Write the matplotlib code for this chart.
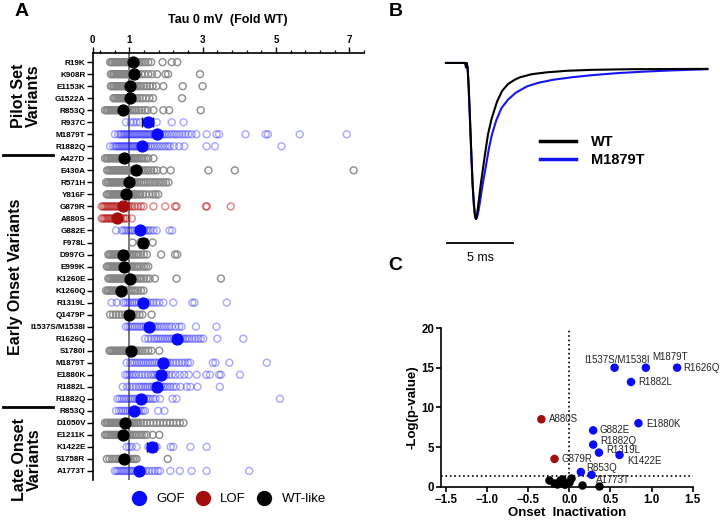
import matplotlib
matplotlib.use("Agg")
import matplotlib.pyplot as plt
from matplotlib.lines import Line2D
import numpy as np

plt.rcParams['font.family'] = ['Liberation Sans', 'DejaVu Sans']

# ---------------- Painel A: tau a 0 mV (fold WT) ----------------
pilot_labels = ['R19K', 'K908R', 'E1153K', 'G1522A', 'R853Q', 'R937C', 'M1879T', 'R1882Q']
early_labels = ['A427D', 'E430A', 'R571H', 'Y816F', 'G879R', 'A880S', 'G882E', 'F978L',
                'D997G', 'E999K', 'K1260E', 'K1260Q', 'R1319L', 'Q1479P', 'I1537S/M1538I',
                'R1626Q', 'S1780I', 'M1879T', 'E1880K', 'R1882L', 'R1882Q']
late_labels = ['R853Q', 'D1050V', 'E1211K', 'K1422E', 'S1758R', 'A1773T']

pilot_class = ['wt', 'wt', 'wt', 'wt', 'wt', 'gof', 'gof', 'gof']
early_class = ['wt', 'wt', 'wt', 'wt', 'lof', 'lof', 'gof', 'wt', 'wt', 'wt', 'wt', 'wt',
               'gof', 'wt', 'gof', 'gof', 'wt', 'gof', 'gof', 'gof', 'gof']
late_class = ['gof', 'wt', 'wt', 'gof', 'wt', 'gof']

pilot_mean = [1.09, 1.13, 1.02, 1.02, 0.82, 1.50, 1.75, 1.34]
early_mean = [0.86, 1.18, 1.00, 0.90, 0.84, 0.68, 1.29, 1.37, 0.84, 0.86, 1.02, 0.77,
              1.37, 1.00, 1.55, 2.31, 1.04, 1.93, 1.86, 1.75, 1.31]
late_mean = [1.13, 0.89, 0.84, 1.61, 0.86, 1.28]

pilot_sem = [0.04, 0.05, 0.04, 0.04, 0.04, 0.14, 0.06, 0.05]
early_sem = [0.04, 0.08, 0.04, 0.04, 0.06, 0.05, 0.06, 0.11, 0.04, 0.04, 0.04, 0.04,
             0.07, 0.05, 0.07, 0.08, 0.04, 0.08, 0.07, 0.07, 0.06]
late_sem = [0.06, 0.04, 0.05, 0.12, 0.06, 0.07]

# células individuais (uma lista por variante)
pilot_cells = [
    [0.48, 0.52, 0.56, 0.60, 0.64, 0.68, 0.72, 0.76, 0.80, 0.84, 0.88, 0.92, 0.96, 1.00, 1.04,
     1.08, 1.12, 1.16, 1.21, 1.26, 1.31, 1.37, 1.44, 1.52, 1.60, 1.91, 2.16, 2.31],
    [0.50, 0.54, 0.58, 0.62, 0.66, 0.70, 0.74, 0.78, 0.82, 0.86, 0.90, 0.94, 0.98, 1.02, 1.06,
     1.10, 1.14, 1.19, 1.25, 1.33, 1.42, 1.52, 1.62, 1.76, 1.99, 2.06, 2.93],
    [0.50, 0.54, 0.58, 0.62, 0.66, 0.70, 0.74, 0.78, 0.82, 0.86, 0.90, 0.94, 0.98, 1.02, 1.06,
     1.10, 1.15, 1.20, 1.26, 1.32, 1.40, 1.48, 1.56, 1.64, 1.74, 1.93, 2.46, 3.00],
    [0.57, 0.61, 0.65, 0.69, 0.73, 0.77, 0.81, 0.85, 0.89, 0.93, 0.97, 1.01, 1.05, 1.10, 1.15,
     1.21, 1.28, 1.36, 1.45, 1.55, 1.65, 2.44],
    [0.34, 0.38, 0.42, 0.46, 0.50, 0.54, 0.58, 0.62, 0.66, 0.70, 0.74, 0.78, 0.82, 0.86, 0.90,
     0.94, 0.98, 1.03, 1.08, 1.14, 1.20, 1.27, 1.35, 1.43, 1.50, 1.66, 1.93, 2.09, 2.95],
    [0.91, 1.04, 1.12, 1.20, 1.29, 1.45, 1.58, 1.75, 2.16, 2.48],
    [0.61, 0.70, 0.76, 0.80, 0.84, 0.88, 0.92, 0.96, 1.00, 1.04, 1.08, 1.12, 1.16, 1.20, 1.24,
     1.28, 1.32, 1.36, 1.40, 1.44, 1.48, 1.52, 1.56, 1.60, 1.64, 1.68, 1.72, 1.76, 1.80, 1.85,
     1.90, 1.96, 2.02, 2.09, 2.16, 2.23, 2.30, 2.37, 2.45, 2.53, 2.61, 2.70, 2.83, 3.11, 3.38,
     3.45, 4.17, 4.72, 4.78, 5.65, 6.93],
    [0.48, 0.56, 0.62, 0.66, 0.70, 0.74, 0.78, 0.82, 0.86, 0.90, 0.94, 0.98, 1.02, 1.06, 1.10,
     1.14, 1.18, 1.22, 1.26, 1.30, 1.35, 1.40, 1.46, 1.52, 1.58, 1.64, 1.70, 1.77, 1.84, 1.91,
     1.98, 2.05, 2.11, 2.22, 2.36, 2.50, 3.11, 3.34, 5.15],
]
early_cells = [
    [0.34, 0.38, 0.42, 0.46, 0.50, 0.54, 0.58, 0.62, 0.66, 0.70, 0.74, 0.78, 0.82, 0.86, 0.90,
     0.94, 0.98, 1.02, 1.06, 1.10, 1.14, 1.18, 1.23, 1.28, 1.34, 1.40, 1.46, 1.52, 1.66],
    [0.40, 0.44, 0.48, 0.52, 0.56, 0.60, 0.64, 0.68, 0.72, 0.76, 0.80, 0.84, 0.88, 0.92, 0.96,
     1.00, 1.04, 1.08, 1.12, 1.16, 1.21, 1.26, 1.32, 1.39, 1.46, 1.53, 1.60, 1.68, 1.76, 1.93,
     2.13, 3.16, 3.88, 7.12],
    [0.37, 0.41, 0.45, 0.49, 0.53, 0.57, 0.61, 0.65, 0.69, 0.73, 0.77, 0.81, 0.85, 0.89, 0.93,
     0.97, 1.01, 1.05, 1.09, 1.13, 1.17, 1.22, 1.27, 1.33, 1.39, 1.45, 1.51, 1.58, 1.65, 1.72,
     1.79, 1.86, 1.93, 2.00, 2.07],
    [0.39, 0.43, 0.47, 0.51, 0.55, 0.59, 0.63, 0.67, 0.71, 0.75, 0.79, 0.83, 0.87, 0.91, 0.95,
     0.99, 1.03, 1.07, 1.11, 1.15, 1.19, 1.24, 1.30, 1.37, 1.45, 1.55, 1.65, 1.72, 1.79],
    [0.25, 0.29, 0.33, 0.37, 0.41, 0.45, 0.49, 0.53, 0.57, 0.61, 0.65, 0.69, 0.73, 0.77, 0.81,
     0.85, 0.89, 0.93, 0.97, 1.02, 1.08, 1.15, 1.24, 1.32, 1.39, 1.66, 1.98, 2.25, 2.29, 3.09,
     3.12, 3.77],
    [0.25, 0.29, 0.33, 0.37, 0.41, 0.45, 0.49, 0.53, 0.57, 0.61, 0.65, 0.69, 0.73, 0.78, 0.84,
     0.90, 0.93, 1.07],
    [0.64, 0.80, 0.86, 0.92, 0.98, 1.04, 1.10, 1.16, 1.22, 1.28, 1.34, 1.40, 1.46, 1.52, 1.58,
     1.66, 1.75, 2.10, 2.17],
    [1.09, 1.30, 1.40, 1.64],
    [0.43, 0.47, 0.51, 0.55, 0.59, 0.63, 0.67, 0.71, 0.75, 0.79, 0.83, 0.87, 0.91, 0.95, 0.99,
     1.03, 1.08, 1.13, 1.19, 1.25, 1.32, 1.40, 1.48, 1.87, 2.25, 2.31],
    [0.39, 0.43, 0.47, 0.51, 0.55, 0.59, 0.63, 0.67, 0.71, 0.75, 0.79, 0.83, 0.87, 0.91, 0.95,
     0.99, 1.03, 1.08, 1.13, 1.19, 1.25, 1.32, 1.40, 1.46, 1.52],
    [0.43, 0.47, 0.51, 0.55, 0.59, 0.63, 0.67, 0.71, 0.75, 0.79, 0.83, 0.87, 0.91, 0.95, 0.99,
     1.03, 1.07, 1.11, 1.16, 1.21, 1.27, 1.33, 1.40, 1.48, 1.56, 1.70, 2.29, 3.50],
    [0.37, 0.41, 0.45, 0.49, 0.53, 0.57, 0.61, 0.65, 0.69, 0.73, 0.77, 0.81, 0.85, 0.89, 0.93,
     0.98, 1.04, 1.10, 1.17, 1.24, 1.32, 1.39],
    [0.52, 0.66, 0.84, 0.90, 0.96, 1.02, 1.08, 1.14, 1.20, 1.26, 1.32, 1.38, 1.44, 1.50, 1.58,
     1.66, 1.74, 1.82, 1.93, 2.20, 2.72, 2.78, 3.66],
    [0.48, 0.56, 0.64, 0.72, 0.80, 0.88, 0.96, 1.04, 1.12, 1.20, 1.28, 1.36, 1.61],
    [0.91, 0.97, 1.03, 1.09, 1.15, 1.21, 1.27, 1.33, 1.39, 1.45, 1.51, 1.57, 1.63, 1.69, 1.75,
     1.81, 1.88, 1.95, 2.02, 2.09, 2.16, 2.26, 2.36, 2.43, 2.82, 3.38],
    [1.43, 1.52, 1.60, 1.68, 1.74, 1.80, 1.86, 1.92, 1.98, 2.04, 2.10, 2.16, 2.22, 2.28, 2.34,
     2.40, 2.46, 2.52, 2.58, 2.64, 2.72, 2.80, 2.88, 2.95, 3.02, 3.40, 4.11],
    [0.46, 0.50, 0.54, 0.58, 0.62, 0.66, 0.70, 0.74, 0.78, 0.82, 0.86, 0.90, 0.94, 0.98, 1.02,
     1.06, 1.10, 1.14, 1.18, 1.23, 1.29, 1.36, 1.44, 1.52, 1.61, 1.82],
    [0.93, 1.03, 1.09, 1.15, 1.21, 1.27, 1.33, 1.39, 1.45, 1.51, 1.57, 1.63, 1.69, 1.75, 1.81,
     1.87, 1.93, 1.99, 2.05, 2.12, 2.20, 2.28, 2.36, 2.44, 2.52, 2.60, 2.66, 3.28, 3.35, 3.73,
     4.75],
    [0.89, 0.95, 1.01, 1.07, 1.13, 1.19, 1.27, 1.35, 1.43, 1.51, 1.59, 1.65, 1.71, 1.77, 1.83,
     1.89, 1.95, 2.01, 2.08, 2.16, 2.26, 2.38, 2.50, 2.62, 2.84, 3.10, 3.20, 3.45, 3.50, 4.02],
    [0.82, 0.94, 1.02, 1.10, 1.18, 1.26, 1.32, 1.38, 1.44, 1.50, 1.56, 1.62, 1.68, 1.74, 1.80,
     1.86, 1.92, 1.98, 2.05, 2.12, 2.20, 2.28, 2.40, 2.57, 2.67, 2.86, 3.47],
    [0.68, 0.74, 0.80, 0.86, 0.92, 0.98, 1.04, 1.10, 1.16, 1.22, 1.28, 1.34, 1.40, 1.46, 1.52,
     1.58, 1.65, 1.72, 1.84, 2.18, 2.29, 5.11],
]
late_cells = [
    [0.64, 0.72, 0.78, 0.84, 0.90, 0.96, 1.02, 1.08, 1.14, 1.20, 1.26, 1.32, 1.38, 1.43, 1.79,
     1.96],
    [0.34, 0.38, 0.42, 0.46, 0.50, 0.54, 0.58, 0.62, 0.66, 0.70, 0.74, 0.78, 0.82, 0.86, 0.90,
     0.94, 0.98, 1.02, 1.06, 1.10, 1.14, 1.19, 1.25, 1.32, 1.40, 1.48, 1.57, 1.66, 1.75, 1.84,
     1.93, 2.02, 2.11, 2.20, 2.29, 2.38, 2.48],
    [0.34, 0.38, 0.42, 0.46, 0.50, 0.54, 0.58, 0.62, 0.66, 0.70, 0.74, 0.78, 0.82, 0.86, 0.90,
     0.94, 0.98, 1.02, 1.07, 1.13, 1.20, 1.27, 1.34, 1.41, 1.48, 1.64, 1.82],
    [0.93, 1.00, 1.07, 1.20, 1.52, 1.58, 1.64, 1.70, 1.75, 2.13, 2.20, 2.67, 3.11],
    [0.39, 0.46, 0.53, 0.60, 0.67, 0.74, 0.80, 0.86, 0.92, 0.98, 1.04, 1.10, 1.15, 1.20, 2.05],
    [0.61, 0.66, 0.71, 0.76, 0.81, 0.86, 0.91, 0.96, 1.01, 1.06, 1.11, 1.17, 1.23, 1.30, 1.38,
     1.46, 1.54, 1.62, 1.70, 1.78, 1.84, 2.12, 2.38, 2.70, 3.11, 4.27],
]

# ---------------- Painel B: correntes normalizadas ----------------
wt_t = [0.0, 1.0, 1.45, 1.52, 1.58, 1.64, 1.72, 1.82, 1.92, 2.02, 2.12, 2.20, 2.27, 2.34,
        2.42, 2.52, 2.65, 2.80, 2.95, 3.18, 3.45, 3.86, 4.25, 4.70, 5.20, 5.60, 6.50, 7.65,
        9.20, 11.10, 14.00, 17.00, 19.80]
wt_i = [0.0, 0.0, 0.0, -0.03, 0.0, -0.03, -0.15, -0.36, -0.58, -0.78, -0.91, -0.98, -1.00,
        -0.98, -0.93, -0.86, -0.77, -0.68, -0.59, -0.46, -0.36, -0.25, -0.18, -0.135, -0.108,
        -0.092, -0.072, -0.060, -0.050, -0.044, -0.040, -0.039, -0.038]
mut_t = [0.0, 1.0, 1.45, 1.55, 1.64, 1.72, 1.82, 1.92, 2.02, 2.12, 2.20, 2.28, 2.36, 2.46,
         2.56, 2.70, 2.86, 3.03, 3.25, 3.48, 3.80, 4.20, 4.70, 5.30, 6.14, 7.00, 8.10, 9.50,
         11.10, 13.00, 14.90, 17.00, 19.80]
mut_i = [0.0, 0.0, 0.0, -0.01, -0.03, -0.15, -0.36, -0.58, -0.78, -0.91, -0.98, -1.00, -0.99,
         -0.95, -0.90, -0.82, -0.74, -0.66, -0.55, -0.46, -0.37, -0.29, -0.235, -0.19, -0.15,
         -0.127, -0.108, -0.092, -0.078, -0.065, -0.056, -0.048, -0.040]
scale_ms = 5

# ---------------- Painel C: volcano ----------------
volc_names = ['I1537S/M1538I', 'M1879T', 'R1626Q', 'R1882L', 'E1880K', 'G882E', 'R1882Q',
              'R1319L', 'K1422E', 'R853Q', 'A1773T', 'A880S', 'G879R']
volc_x = [0.55, 0.93, 1.31, 0.75, 0.84, 0.29, 0.29, 0.36, 0.61, 0.14, 0.27, -0.34, -0.18]
volc_y = [15.0, 15.0, 15.0, 13.2, 8.0, 7.1, 5.3, 4.3, 4.0, 1.85, 1.5, 8.5, 3.5]
volc_class = ['gof'] * 11 + ['lof', 'lof']
# posição dos rótulos (canto esquerdo)
volc_lab_x = [0.18, 1.01, 1.39, 0.84, 0.93, 0.37, 0.37, 0.45, 0.70, 0.20, 0.33, -0.25, -0.09]
volc_lab_y = [16.0, 16.3, 15.0, 13.2, 7.9, 7.1, 5.7, 4.6, 3.2, 2.4, 0.9, 8.5, 3.5]
volc_wt_x = [-0.25, -0.19, -0.15, -0.13, -0.11, -0.09, -0.07, -0.05, -0.01, 0.02, 0.15, 0.36]
volc_wt_y = [0.85, 0.50, 0.35, 0.65, 0.85, 0.95, 0.30, 0.40, 0.55, 1.10, 0.20, 0.10]
p_threshold = 1.3

mean_color = {'gof': '#0a0aff', 'lof': '#a30d0d', 'wt': 'black'}
cell_color = {'gof': '#2020ff', 'lof': '#b51515', 'wt': '#858585'}
cell_alpha = {'gof': 0.38, 'lof': 0.5, 'wt': 0.9}


def painel_a(fig):
    labels = pilot_labels + early_labels + late_labels
    classes = pilot_class + early_class + late_class
    means = pilot_mean + early_mean + late_mean
    sems = pilot_sem + early_sem + late_sem
    cells = pilot_cells + early_cells + late_cells

    ax = fig.add_axes([0.1285, 0.0875, 0.377, 0.8115])
    ax.axvline(1, color='#555555', lw=1.1, zorder=1)
    for i, (vals, cls) in enumerate(zip(cells, classes)):
        ax.scatter(vals, np.full(len(vals), i), s=25, facecolors='none',
                   edgecolors=cell_color[cls], linewidths=1.05, alpha=cell_alpha[cls],
                   zorder=2, clip_on=False)
        ax.errorbar(means[i], i, xerr=sems[i], fmt='o', ms=7.8, color=mean_color[cls],
                    ecolor='black', elinewidth=1, capsize=3.5, capthick=1, zorder=4)

    ax.set_xlim(0, 7.4)
    ax.set_ylim(len(labels) - 0.25, -0.75)
    ax.xaxis.tick_top()
    ax.set_xticks([0, 1, 3, 5, 7])
    ax.set_xticks(np.arange(0.2, 7.45, 0.4), minor=True)
    ax.set_yticks(range(len(labels)))
    ax.set_yticklabels(labels, fontsize=5.9, fontweight='bold')
    for t in ax.get_xticklabels():
        t.set_fontweight('bold')
        t.set_fontsize(7)
    ax.tick_params(axis='y', length=4, width=1, pad=1)
    ax.tick_params(axis='x', which='major', length=4, width=1, pad=1.5)
    ax.tick_params(axis='x', which='minor', length=2.5, width=0.9, top=True, bottom=False)
    for s in ['right', 'bottom']:
        ax.spines[s].set_visible(False)
    for s in ['left', 'top']:
        ax.spines[s].set_linewidth(1.2)
    ax.set_title('Tau 0 mV  (Fold WT)', fontsize=9, fontweight='bold', pad=22)

    # rótulos dos grupos
    fig.text(26 / 720, 1 - 96 / 526, 'Pilot Set\nVariants', rotation=90, ha='center',
             va='center', fontsize=11.5, fontweight='bold', linespacing=1.05)
    fig.text(16 / 720, 1 - 277 / 526, 'Early Onset Variants', rotation=90, ha='center',
             va='center', fontsize=11.5, fontweight='bold')
    fig.text(27 / 720, 1 - 460 / 526, 'Late Onset\nVariants', rotation=90, ha='center',
             va='center', fontsize=11.5, fontweight='bold', linespacing=1.05)
    for ypx in [155, 407]:
        fig.add_artist(Line2D([3 / 720, 53 / 720], [1 - ypx / 526] * 2, color='black', lw=2))

    handles = [Line2D([], [], marker='o', ls='', color=mean_color[c], ms=10)
               for c in ['gof', 'lof', 'wt']]
    fig.legend(handles, ['GOF', 'LOF', 'WT-like'], loc='center',
               bbox_to_anchor=(229 / 720, 1 - 499 / 526), ncol=3, frameon=False,
               fontsize=9.5, handlelength=1.0, handletextpad=0.8, columnspacing=0.9)


def painel_b(fig):
    ax = fig.add_axes([440 / 720, 1 - 265 / 526, 272 / 720, 210 / 526])
    ax.plot(mut_t, mut_i, color='#1515f0', lw=1.5)
    ax.plot(wt_t, wt_i, color='black', lw=1.5)
    ax.set_xlim(-0.45, 20.15)
    ax.set_ylim(-1.295, 0.051)
    ax.axis('off')
    ax.plot([0.08, 0.08 + scale_ms], [-1.154, -1.154], color='black', lw=1.3)
    ax.text(0.08 + scale_ms / 2, -1.25, f'{scale_ms} ms', ha='center', va='center', fontsize=9)
    handles = [Line2D([], [], color='black', lw=2.5), Line2D([], [], color='#1515f0', lw=2.5)]
    ax.legend(handles, ['WT', 'M1879T'], loc='upper left',
              bbox_to_anchor=(540 / 720, 1 - 135 / 526), bbox_transform=fig.transFigure,
              frameon=False, borderpad=0, borderaxespad=0, handlelength=2.5,
              handletextpad=1.0, labelspacing=0.25,
              prop={'size': 10.5, 'weight': 'bold'})


def painel_c(fig):
    ax = fig.add_axes([0.6125, 0.0747, 0.3496, 0.3017])
    ax.axvline(0, ls=':', color='black', lw=1.2, zorder=1)
    ax.axhline(p_threshold, ls=':', color='black', lw=1.2, zorder=1)
    ax.scatter(volc_wt_x, volc_wt_y, s=26, color='black', zorder=3, clip_on=False)
    ax.scatter(volc_x, volc_y, s=26, color=[mean_color[c] for c in volc_class], zorder=3,
               clip_on=False)
    for nome, lx, ly in zip(volc_names, volc_lab_x, volc_lab_y):
        ax.text(lx, ly, nome, fontsize=7, color='#222222', ha='left', va='center', zorder=4)
    ax.set_xlim(-1.56, 1.5)
    ax.set_ylim(0, 20)
    ax.set_xticks([-1.5, -1.0, -0.5, 0.0, 0.5, 1.0, 1.5])
    ax.set_yticks([0, 5, 10, 15, 20])
    for t in ax.get_xticklabels() + ax.get_yticklabels():
        t.set_fontweight('bold')
        t.set_fontsize(8.3)
    ax.tick_params(length=3.5, width=1.2, pad=1.5)
    for s in ['right', 'top']:
        ax.spines[s].set_visible(False)
    for s in ['left', 'bottom']:
        ax.spines[s].set_linewidth(1.2)
    ax.set_xlabel('Onset  Inactivation', fontsize=9.5, fontweight='bold', labelpad=1)
    ax.set_ylabel('-Log(p-value)', fontsize=9.5, fontweight='bold', labelpad=2)


fig = plt.figure(figsize=(7.2, 5.26), dpi=100)
painel_a(fig)
painel_b(fig)
painel_c(fig)
for letra, xp, yp in [('A', 22, 12), ('B', 396, 12), ('C', 395, 266)]:
    fig.text(xp / 720, 1 - yp / 526, letra, fontsize=14, fontweight='bold', ha='center',
             va='center')
fig.savefig('out.png', dpi=100)
